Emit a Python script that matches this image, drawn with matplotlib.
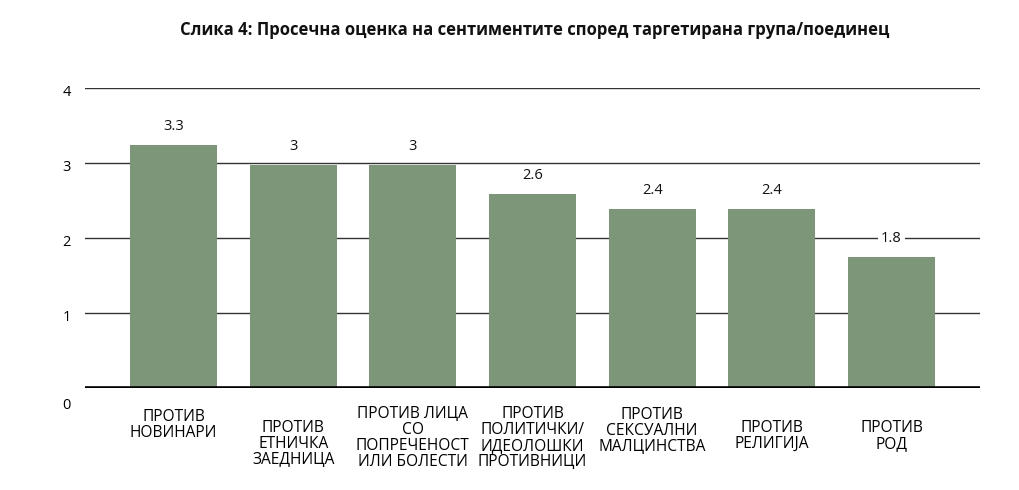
import matplotlib
matplotlib.use("Agg")
import matplotlib.pyplot as plt
import matplotlib.transforms as mtransforms

categories = [
    "ПРОТИВ\nНОВИНАРИ",
    "ПРОТИВ\nЕТНИЧКА\nЗАЕДНИЦА",
    "ПРОТИВ ЛИЦА\nСО\nПОПРЕЧЕНОСТ\nИЛИ БОЛЕСТИ",
    "ПРОТИВ\nПОЛИТИЧКИ/\nИДЕОЛОШКИ\nПРОТИВНИЦИ",
    "ПРОТИВ\nСЕКСУАЛНИ\nМАЛЦИНСТВА",
    "ПРОТИВ\nРЕЛИГИЈА",
    "ПРОТИВ\nРОД",
]
values = [3.24, 2.97, 2.97, 2.59, 2.39, 2.39, 1.75]
value_labels = ["3.3", "3", "3", "2.6", "2.4", "2.4", "1.8"]
yticks = [0, 1, 2, 3, 4]
title = "Слика 4: Просечна оценка на сентиментите според таргетирана група/поединец"

plt.rcParams["font.family"] = ["Open Sans", "DejaVu Sans"]

fig = plt.figure(figsize=(10.2, 4.9), dpi=100)
ax = fig.add_axes([85/1020, 1 - 388/490, 895/1020, 300/490])

x = list(range(len(categories)))
bars = ax.bar(x, values, width=0.727, color="#7D967A", zorder=3)
ax.set_xlim(-0.74, len(categories) - 1 + 0.74)
ax.set_ylim(0, 4)

for yt in yticks[1:]:
    ax.axhline(yt, color="#333333", lw=1.0, zorder=1)
ax.axhline(0, color="black", lw=2.6, zorder=4)

for b, lab in zip(bars, value_labels):
    ax.annotate(lab, (b.get_x() + b.get_width()/2, b.get_height()),
                xytext=(0, 8), textcoords="offset points",
                ha="center", va="bottom", fontsize=10.5, color="#111111",
                bbox=dict(boxstyle="square,pad=0.2", fc="white", ec="none"),
                zorder=5)

for s in ax.spines.values():
    s.set_visible(False)

ax.set_yticks(yticks)
ax.set_yticklabels([str(t) for t in yticks], fontsize=10.5)
ax.tick_params(axis="y", length=0, pad=10)
for t in ax.get_yticklabels():
    off = -11 if t.get_text() == "0" else -2
    t.set_transform(t.get_transform() + mtransforms.ScaledTranslation(0, off/72, fig.dpi_scale_trans))

ax.set_xticks(x)
ax.set_xticklabels(categories, fontsize=11.2, linespacing=1.0)
ax.tick_params(axis="x", length=0, pad=13)
label_offsets = [-2, -10, 0, 0, -1, -10, -10]
for t, off in zip(ax.get_xticklabels(), label_offsets):
    t.set_transform(t.get_transform() + mtransforms.ScaledTranslation(0, off/72, fig.dpi_scale_trans))

fig.text(535/1020, 1 - 30/490, title, ha="center", va="center",
         fontsize=12, fontweight="bold", color="#111111")

fig.savefig("out.png", dpi=100, facecolor="white")
